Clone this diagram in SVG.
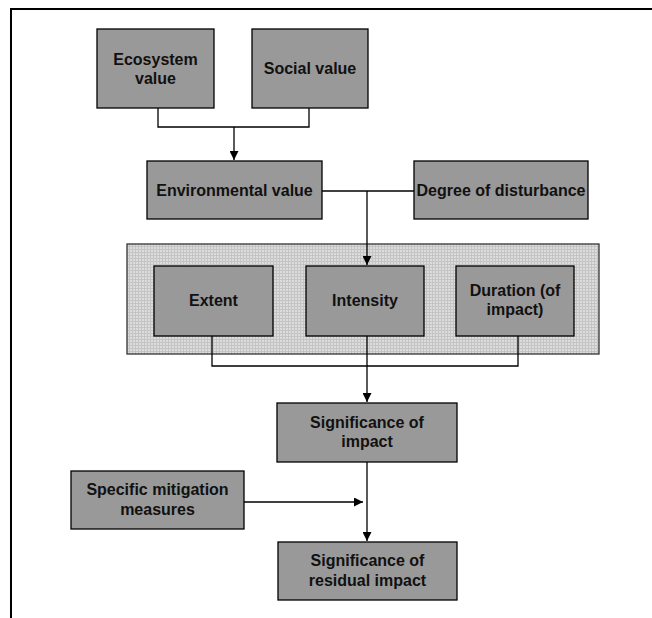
<svg xmlns="http://www.w3.org/2000/svg" width="652" height="618" viewBox="0 0 652 618">
<style>
.box{fill:#999999;stroke:#000;stroke-width:1.3}
.lbl{font-family:"Liberation Sans",Arial,sans-serif;font-weight:bold;font-size:16px;fill:#111;text-anchor:middle}
.ln{fill:none;stroke:#000;stroke-width:1.3}
</style>
<defs>
<pattern id="tex" width="6" height="6" patternUnits="userSpaceOnUse">
<rect width="6" height="6" fill="#dcdcdc"/>
<path d="M0 0.5H6M0 3.5H6M0.5 0V6M3.5 0V6" stroke="#c4c4c4" stroke-width="1"/>
</pattern>
<marker id="arr" viewBox="0 0 10 10" refX="10" refY="5" markerWidth="10" markerHeight="9" markerUnits="userSpaceOnUse" orient="auto">
<path d="M0 0L10 5L0 10Z" fill="#000"/>
</marker>
</defs>
<rect width="652" height="618" fill="#fff"/>
<path d="M11 618V9H652" fill="none" stroke="#000" stroke-width="2"/>
<g id="panel"><rect x="127" y="244" width="472" height="110" fill="url(#tex)" stroke="#333" stroke-width="1.3"/></g>
<g id="connectors">
<path class="ln" d="M158 108V127H309V108"/>
<path class="ln" d="M234 127V160" marker-end="url(#arr)"/>
<path class="ln" d="M322 191H414"/>
<path class="ln" d="M367 191V265" marker-end="url(#arr)"/>
<path class="ln" d="M212 336V366H518V336"/>
<path class="ln" d="M367 336V402" marker-end="url(#arr)"/>
<path class="ln" d="M367 462V541" marker-end="url(#arr)"/>
<path class="ln" d="M244 502H363" marker-end="url(#arr)"/>
</g>
<g id="ecosystem"><rect class="box" x="97" y="29" width="117" height="79"/><text class="lbl" x="155.5" y="65">Ecosystem</text><text class="lbl" x="155.5" y="84">value</text></g>
<g id="social"><rect class="box" x="252" y="29" width="116" height="79"/><text class="lbl" x="310" y="74">Social value</text></g>
<g id="environmental"><rect class="box" x="147" y="161" width="175" height="58"/><text class="lbl" x="234.5" y="196">Environmental value</text></g>
<g id="disturbance"><rect class="box" x="414" y="161" width="174" height="58"/><text class="lbl" x="501" y="196">Degree of disturbance</text></g>
<g id="extent"><rect class="box" x="154" y="266" width="119" height="70"/><text class="lbl" x="213.5" y="306">Extent</text></g>
<g id="intensity"><rect class="box" x="306" y="266" width="118" height="70"/><text class="lbl" x="365" y="306">Intensity</text></g>
<g id="duration"><rect class="box" x="456" y="266" width="118" height="70"/><text class="lbl" x="515" y="296">Duration (of</text><text class="lbl" x="515" y="315">impact)</text></g>
<g id="significance"><rect class="box" x="277" y="403" width="180" height="59"/><text class="lbl" x="367" y="428">Significance of</text><text class="lbl" x="367" y="447">impact</text></g>
<g id="mitigation"><rect class="box" x="71" y="471" width="173" height="58"/><text class="lbl" x="157.5" y="495">Specific mitigation</text><text class="lbl" x="157.5" y="515">measures</text></g>
<g id="residual"><rect class="box" x="278" y="542" width="179" height="58"/><text class="lbl" x="367.5" y="566">Significance of</text><text class="lbl" x="367.5" y="586">residual impact</text></g>
</svg>
